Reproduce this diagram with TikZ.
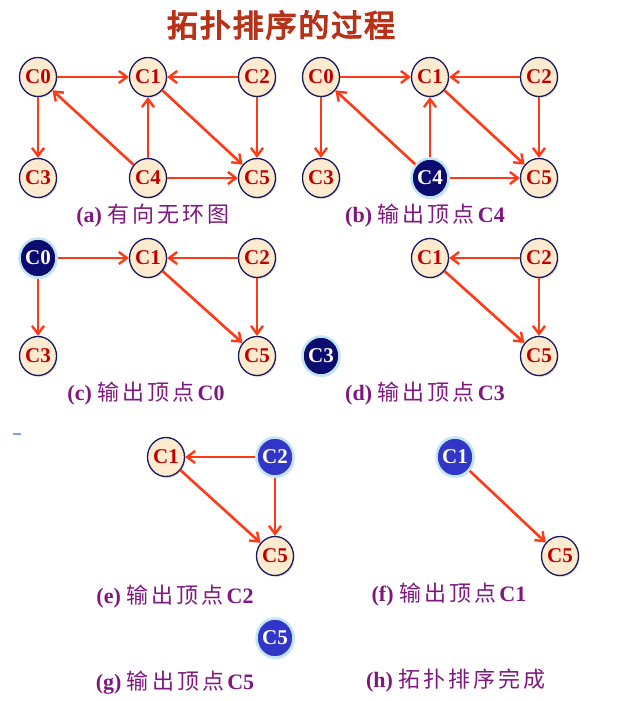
\documentclass[tikz,border=0pt]{standalone}
\usepackage{fontspec}
\setmainfont{Liberation Serif}
\newfontfamily\cjk[LetterSpace=14]{Noto Sans CJK SC}
\newfontfamily\cjktitle[FakeBold=4,LetterSpace=6]{Noto Sans CJK SC}
\usetikzlibrary{shapes.geometric}
\usetikzlibrary{arrows.meta}
\usetikzlibrary{shadows}
\definecolor{nodefill}{HTML}{FCEBCF}
\definecolor{nodeline}{HTML}{1A1A5E}
\definecolor{nodetext}{HTML}{C00000}
\definecolor{arrowred}{HTML}{FF3A17}
\definecolor{navy}{HTML}{0B0B70}
\definecolor{glow}{HTML}{BFE6F5}
\definecolor{outblue}{HTML}{3236C8}
\definecolor{capcol}{HTML}{7F1780}
\definecolor{titlecol}{HTML}{B8321A}
\tikzset{%
	vertex/.style={ellipse,draw=nodeline,line width=1.3pt,fill=nodefill,text=nodetext,inner sep=0pt,
		minimum width=37pt,minimum height=39pt,font=\bfseries\fontsize{21}{21}\selectfont,
		drop shadow={shadow xshift=1.2pt,shadow yshift=-1.5pt,opacity=0.25}},
	done/.style={vertex,draw=glow,line width=2.5pt,fill=navy,text=white},
	gone/.style={done,fill=outblue},
	link/.style={draw=arrowred,line width=2.6pt,-{Straight Barb[length=8pt,width=12pt,line width=2.4pt]}},
	caption/.style={text=capcol,font=\fontsize{22}{22}\selectfont},
}
\begin{document}
\begin{tikzpicture}[x=1pt,y=-1pt]
	\useasboundingbox (0,0) rectangle (644,701);
	
	%title
	\node[text=titlecol,font=\cjktitle\fontsize{31}{31}\selectfont] (title) at (281,25) {拓扑排序的过程};
	
	%(a)
	\node[vertex] (a0) at (38,77) {C0};
	\node[vertex] (a1) at (148,77) {C1};
	\node[vertex] (a2) at (257,77) {C2};
	\node[vertex] (a3) at (38,178) {C3};
	\node[vertex] (a4) at (148,178) {C4};
	\node[vertex] (a5) at (257,178) {C5};
	\draw[link] (a0) -- (a1);
	\draw[link] (a2) -- (a1);
	\draw[link] (a0) -- (a3);
	\draw[link] (a4) -- (a0);
	\draw[link] (a4) -- (a1);
	\draw[link] (a1) -- (a5);
	\draw[link] (a2) -- (a5);
	\draw[link] (a4) -- (a5);
	\node[caption] (capa) at (153,216) {\textbf{(a)} \cjk 有向无环图};
	
	%(b)
	\node[vertex] (b0) at (321,77) {C0};
	\node[vertex] (b1) at (430,77) {C1};
	\node[vertex] (b2) at (539,77) {C2};
	\node[vertex] (b3) at (321,178) {C3};
	\node[done] (b4) at (430,178) {C4};
	\node[vertex] (b5) at (539,178) {C5};
	\draw[link] (b0) -- (b1);
	\draw[link] (b2) -- (b1);
	\draw[link] (b0) -- (b3);
	\draw[link] (b4) -- (b0);
	\draw[link] (b4) -- (b1);
	\draw[link] (b1) -- (b5);
	\draw[link] (b2) -- (b5);
	\draw[link] (b4) -- (b5);
	\node[caption] (capb) at (425,216) {\textbf{(b)} {\cjk 输出顶点}\textbf{C4}};
	
	%(c)
	\node[done] (c0) at (38,258) {C0};
	\node[vertex] (c1) at (148,258) {C1};
	\node[vertex] (c2) at (257,258) {C2};
	\node[vertex] (c3) at (38,356) {C3};
	\node[vertex] (c5) at (257,356) {C5};
	\draw[link] (c0) -- (c1);
	\draw[link] (c2) -- (c1);
	\draw[link] (c0) -- (c3);
	\draw[link] (c1) -- (c5);
	\draw[link] (c2) -- (c5);
	\node[caption] (capc) at (146,394) {\textbf{(c)} {\cjk 输出顶点}\textbf{C0}};
	
	%(d)
	\node[vertex] (d1) at (430,258) {C1};
	\node[vertex] (d2) at (539,258) {C2};
	\node[done] (d3) at (321,356) {C3};
	\node[vertex] (d5) at (539,356) {C5};
	\draw[link] (d2) -- (d1);
	\draw[link] (d1) -- (d5);
	\draw[link] (d2) -- (d5);
	\node[caption] (capd) at (425,394) {\textbf{(d)} {\cjk 输出顶点}\textbf{C3}};
	
	\draw[glow!60!outblue,line width=1.5pt] (13,434) -- (21,434);
	
	%(e)
	\node[vertex] (e1) at (166,457) {C1};
	\node[gone] (e2) at (275,457) {C2};
	\node[vertex] (e5) at (275,556) {C5};
	\draw[link] (e2) -- (e1);
	\draw[link] (e1) -- (e5);
	\draw[link] (e2) -- (e5);
	\node[caption] (cape) at (175,597) {\textbf{(e)} {\cjk 输出顶点}\textbf{C2}};
	
	%(f)
	\node[gone] (f1) at (455,457) {C1};
	\node[vertex] (f5) at (560,556) {C5};
	\draw[link] (f1) -- (f5);
	\node[caption] (capf) at (449,595) {\textbf{(f)} {\cjk 输出顶点}\textbf{C1}};
	
	%(g)
	\node[gone] (g5) at (275,638) {C5};
	\node[caption] (capg) at (175,683) {\textbf{(g)} {\cjk 输出顶点}\textbf{C5}};
	
	%(h)
	\node[caption] (caph) at (456,680) {\textbf{(h)} \cjk 拓扑排序完成};
\end{tikzpicture}
\end{document}
